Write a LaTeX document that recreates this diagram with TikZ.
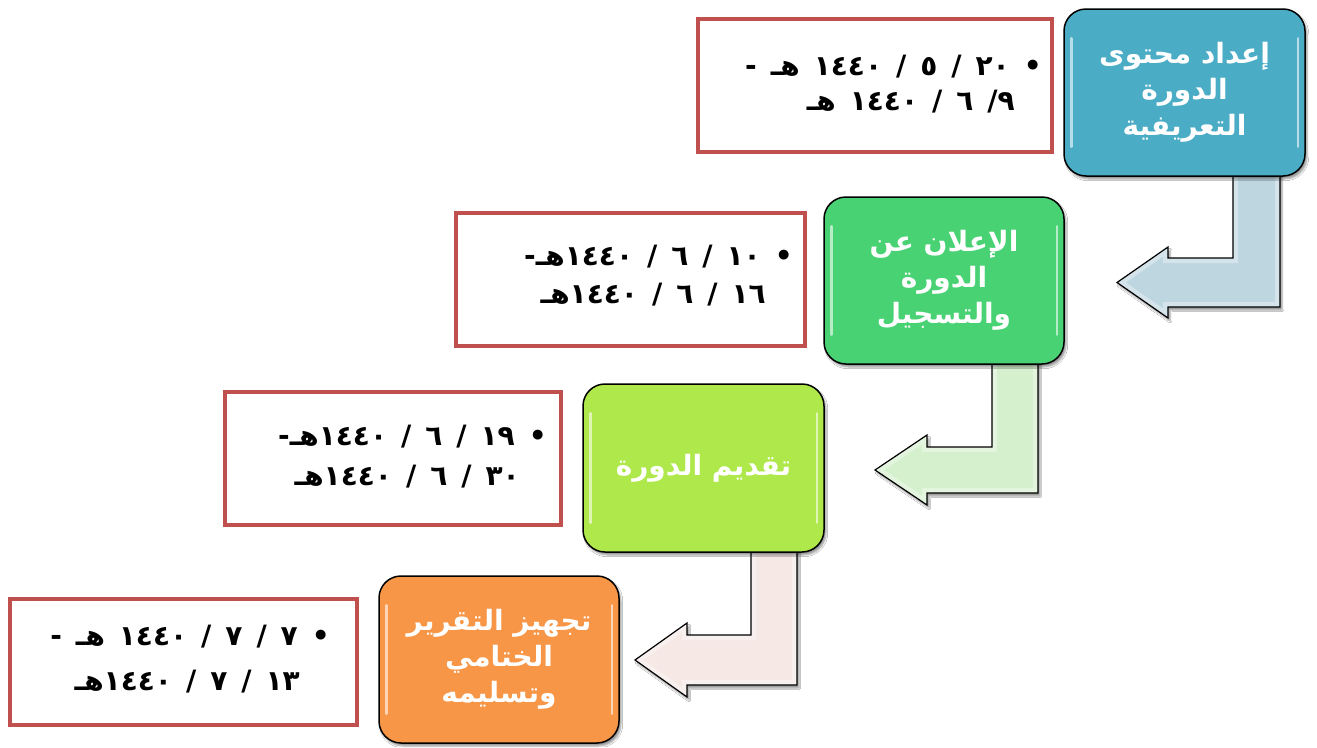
\documentclass[tikz,border=0pt]{standalone}
\usepackage{fontspec}
\newfontfamily\arabicfont[Script=Arabic]{DejaVu Sans}
\TeXXeTstate=1
\usetikzlibrary{shadows.blur}
\definecolor{stageblue}{RGB}{75,172,198}
\definecolor{stagegreen}{RGB}{72,210,115}
\definecolor{stagelime}{RGB}{174,232,74}
\definecolor{stageorange}{RGB}{247,150,70}
\definecolor{arrowblue}{RGB}{190,214,224}
\definecolor{arrowgreen}{RGB}{212,240,205}
\definecolor{arrowpink}{RGB}{245,232,229}
\definecolor{boxred}{RGB}{192,80,77}
\newcommand\brk{\kern0pt}
\newcommand\dsp{\spaceskip=14pt\relax}
\begin{document}
\begin{tikzpicture}[x=1pt,y=-1pt,
  stage/.style={rounded corners=22pt, draw=black, line width=1.5pt, text=white,
    font=\arabicfont\bfseries\fontsize{28}{36}\selectfont, align=center,
    blur shadow={shadow xshift=2pt,shadow yshift=-3pt,shadow opacity=40}},
  datebox/.style={draw=boxred, line width=4pt, fill=white},
  dateline/.style={anchor=base east, inner sep=0pt,
    font=\arabicfont\bfseries\fontsize{28}{32}\selectfont},
  bent/.style={draw=black, line width=1.2pt, line join=miter},
  bentshadow/.style={blur shadow={shadow xshift=2pt,shadow yshift=-3pt,shadow opacity=40}},
  bevel/.style={white, line width=10pt, opacity=0.35, line join=miter},
  glint/.style={white, line width=2.5pt, opacity=0.6, line cap=round}]
\path[use as bounding box, fill=white] (0,0) rectangle (1317,747);

% bent arrows
\foreach \col/\pth in {arrowblue/{(1233,170) -- (1233,258) -- (1168,258) -- (1168,247) -- (1117,282.5) -- (1168,318) -- (1168,307) -- (1280,307) -- (1280,170) -- cycle},
  arrowgreen/{(992,358) -- (992,447) -- (927,447) -- (927,435) -- (875,470) -- (927,505) -- (927,493) -- (1038,493) -- (1038,358) -- cycle},
  arrowpink/{(751,546) -- (751,635) -- (687,635) -- (687,623) -- (635,660) -- (687,697) -- (687,685) -- (797,685) -- (797,546) -- cycle}}{
  \path[bentshadow, fill=\col] \pth;
  \begin{scope}
    \clip \pth;
    \draw[bevel] \pth;
  \end{scope}
  \path[bent] \pth;
}

% stage boxes
\node[stage, fill=stageblue, minimum width=241pt, minimum height=167pt] (s1) at (1184.5,92.5)
  {\beginR إعداد محتوى\endR\\\beginR الدورة\endR\\\beginR التعريفية\endR};
\node[stage, fill=stagegreen, minimum width=240pt, minimum height=167pt] (s2) at (944,280.5)
  {\beginR الإعلان عن\endR\\\beginR الدورة\endR\\\beginR والتسجيل\endR};
\node[stage, fill=stagelime, minimum width=241pt, minimum height=168pt] (s3) at (703.5,468)
  {\beginR تقديم الدورة\endR};
\node[stage, fill=stageorange, minimum width=240pt, minimum height=167pt] (s4) at (499,659.5)
  {\beginR تجهيز التقرير\endR\\\beginR الختامي\endR\\\beginR وتسليمه\endR};
\foreach \s in {s1,s2,s3,s4}{
  \draw[glint] ([xshift=8pt,yshift=-30pt]\s.north west) -- ([xshift=8pt,yshift=30pt]\s.south west);
  \draw[glint] ([xshift=-8pt,yshift=-30pt]\s.north east) -- ([xshift=-8pt,yshift=30pt]\s.south east);
}

% date boxes
\node[datebox, minimum width=354pt, minimum height=133pt] (r1) at (875,85.5) {};
\node[datebox, minimum width=349pt, minimum height=133pt] (r2) at (630.5,279.5) {};
\node[datebox, minimum width=336pt, minimum height=133pt] (r3) at (393,458.5) {};
\node[datebox, minimum width=347pt, minimum height=126pt] (r4) at (183.5,662) {};

% date lines
\node[dateline] (r1a) at (1042,75) {\dsp\beginR • ٢٠ / ٥ / ١٤٤٠ هـ -\endR};
\node[dateline] (r1b) at (1015,110) {\dsp\beginR ٩\brk/ ٦ / ١٤٤٠ هـ\endR};
\node[dateline] (r2a) at (793,265) {\dsp\beginR • ١٠ / ٦ / ١٤٤٠\brk هـ\brk -\endR};
\node[dateline] (r2b) at (766,303) {\dsp\beginR ١٦ / ٦ / ١٤٤٠\brk هـ\endR};
\node[dateline] (r3a) at (547,445) {\dsp\beginR • ١٩ / ٦ / ١٤٤٠\brk هـ\brk -\endR};
\node[dateline] (r3b) at (520,485) {\dsp\beginR ٣٠ / ٦ / ١٤٤٠\brk هـ\endR};
\node[dateline] (r4a) at (330,645) {\dsp\beginR • ٧ / ٧ / ١٤٤٠ هـ -\endR};
\node[dateline] (r4b) at (300,690) {\dsp\beginR ١٣ / ٧ / ١٤٤٠\brk هـ\endR};
\end{tikzpicture}
\end{document}
